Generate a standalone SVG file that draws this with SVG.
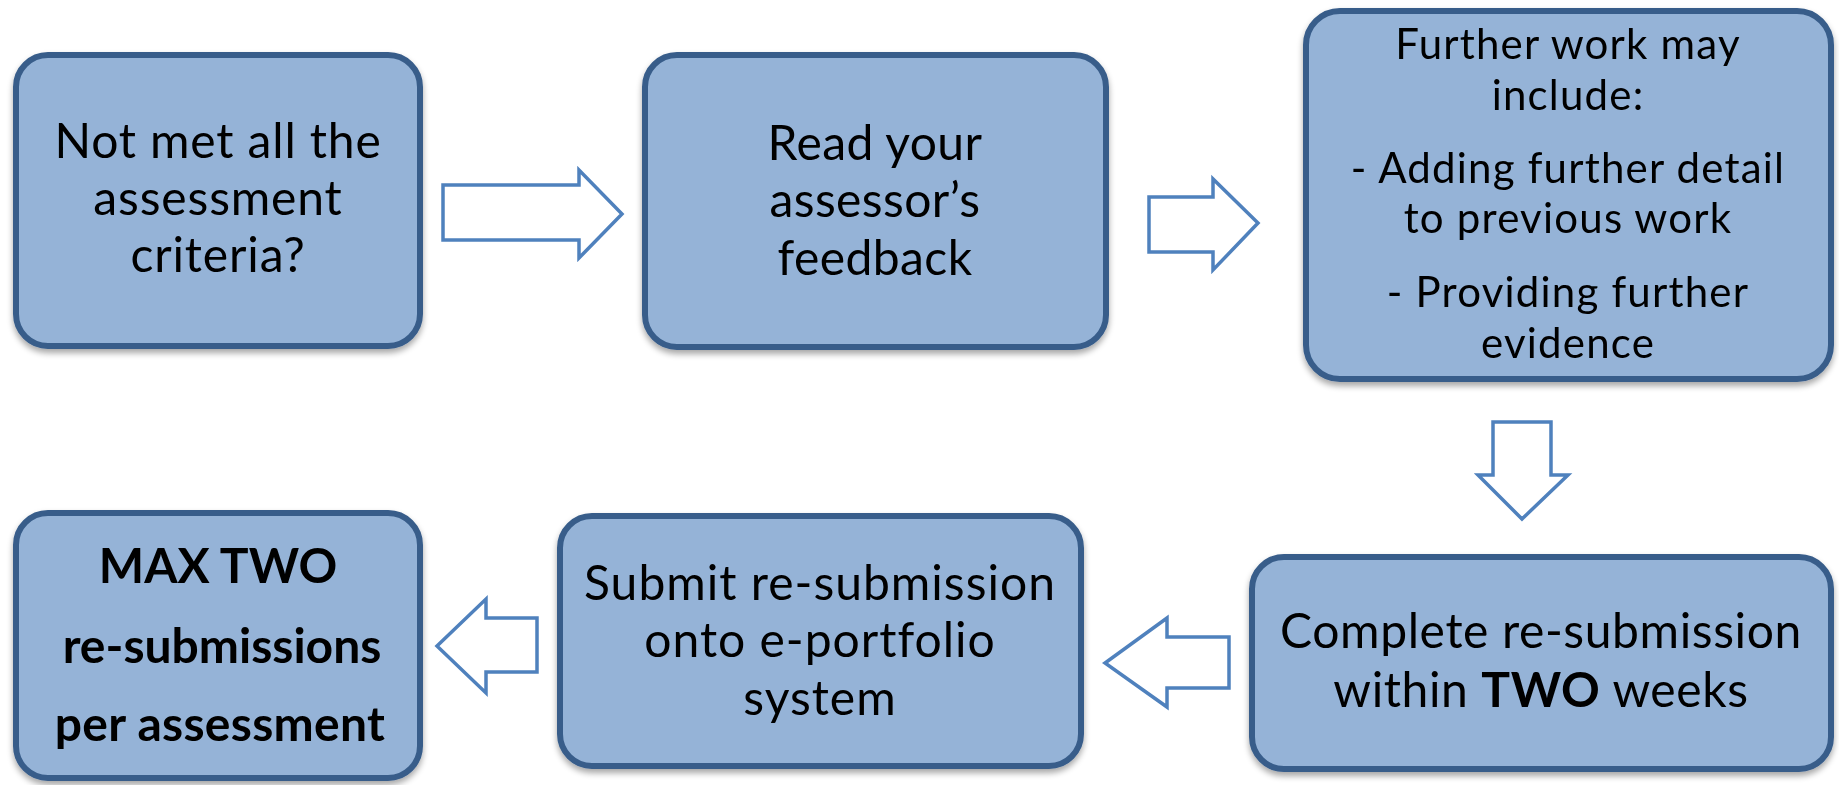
<svg xmlns="http://www.w3.org/2000/svg" width="1839" height="785" viewBox="0 0 1839 785">
<style>
.box{fill:#95B3D7;stroke:#385D8A;stroke-width:6}
.arr{fill:#FFFFFF;stroke:#4F81BD;stroke-width:3.5;stroke-linejoin:miter}
text{font-family:Lato,"Liberation Sans",sans-serif;font-size:48px;fill:#000;text-anchor:middle}
.b{font-weight:bold}
.s{font-size:42px;letter-spacing:1.2px}
</style>
<defs>
<filter id="sh" x="-10%" y="-10%" width="120%" height="125%">
<feGaussianBlur in="SourceAlpha" stdDeviation="3"/>
<feOffset dx="0" dy="4" result="o"/>
<feComponentTransfer><feFuncA type="linear" slope="0.35"/></feComponentTransfer>
<feMerge><feMergeNode/><feMergeNode in="SourceGraphic"/></feMerge>
</filter>
</defs>
<g id="connectors">
<path class="arr" d="M443,185 H579 V170 L622,214 L579,258 V240 H443 Z"/>
<path class="arr" d="M1149,197 H1213 V179 L1258,223 L1213,270 V252 H1149 Z"/>
<path class="arr" d="M1493,422 H1551 V475 H1568 L1522,519 L1478,475 H1493 Z"/>
<path class="arr" d="M1229,637 H1167 V618 L1105,663 L1167,707 V688 H1229 Z"/>
<path class="arr" d="M537,618 H486 V599 L437,646 L486,693 V672 H537 Z"/>
</g>
<g id="n1" filter="url(#sh)">
<rect class="box" x="16" y="55" width="404" height="291" rx="32"/>
<text x="218" y="158" letter-spacing="0.85">Not met all the</text>
<text x="218" y="215" letter-spacing="0.85">assessment</text>
<text x="218" y="272" letter-spacing="0.85">criteria?</text>
</g>
<g id="n2" filter="url(#sh)">
<rect class="box" x="645" y="55" width="461" height="292" rx="32"/>
<text x="875" y="160" letter-spacing="0.4">Read your</text>
<text x="875" y="217" letter-spacing="0.4">assessor’s</text>
<text x="875" y="275" letter-spacing="0.4">feedback</text>
</g>
<g id="n3" filter="url(#sh)">
<rect class="box" x="1306" y="11" width="525" height="368" rx="34"/>
<text class="s" x="1568" y="59">Further work may</text>
<text class="s" x="1568" y="110">include:</text>
<text class="s" x="1568" y="183">- Adding further detail</text>
<text class="s" x="1568" y="233">to previous work</text>
<text class="s" x="1568" y="307">- Providing further</text>
<text class="s" x="1568" y="358">evidence</text>
</g>
<g id="n4" filter="url(#sh)">
<rect class="box" x="16" y="513" width="404" height="265" rx="32"/>
<text class="b" x="218" y="583">MAX TWO</text>
<text class="b" x="222" y="663">re-submissions</text>
<text class="b" x="220" y="741" letter-spacing="0.3">per assessment</text>
</g>
<g id="n5" filter="url(#sh)">
<rect class="box" x="560" y="516" width="521" height="250" rx="32"/>
<text x="820" y="600" letter-spacing="1">Submit re-submission</text>
<text x="820" y="657" letter-spacing="1">onto e-portfolio</text>
<text x="820" y="715" letter-spacing="1">system</text>
</g>
<g id="n6" filter="url(#sh)">
<rect class="box" x="1252" y="557" width="579" height="212" rx="32"/>
<text x="1541" y="648" letter-spacing="0.6">Complete re-submission</text>
<text x="1541" y="707" letter-spacing="0.6">within <tspan class="b">TWO</tspan> weeks</text>
</g>
</svg>
